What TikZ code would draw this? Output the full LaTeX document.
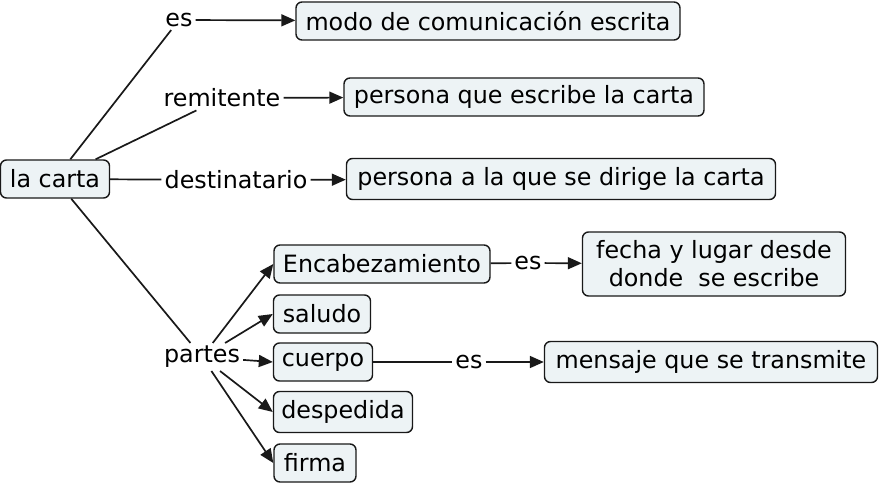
\documentclass[tikz,border=0pt]{standalone}
\usepackage{fontspec}
\setmainfont{DejaVu Sans}
\usepackage{tikz}
\usetikzlibrary{positioning, arrows.meta}
\definecolor{boxFill}{RGB}{237, 243, 245}
\definecolor{boxLine}{RGB}{25, 25, 25}

\begin{document}
\begin{tikzpicture}[x=1pt, y=1pt,
        concept/.style={draw=boxLine, fill=boxFill, line width=1.4pt, rounded corners=6pt,
            inner sep=2pt, minimum height=38pt, font=\fontsize{23.8}{28}\selectfont},
        linkword/.style={inner sep=3pt, font=\fontsize{23.8}{27}\selectfont},
        conn/.style={line width=1.7pt, boxLine},
        arrowto/.style={conn, -{Triangle[length=14pt, width=12pt]}}]
        \useasboundingbox (0,0) rectangle (880,-484);
        % concepts
        \node[concept, minimum width=109pt] (carta) at (55,-179) {la carta};
        \node[concept, minimum width=384pt] (modo) at (488,-21) {modo de comunicación escrita};
        \node[concept, minimum width=360pt] (escribe) at (524,-97) {persona que escribe la carta};
        \node[concept, minimum width=429pt, minimum height=41pt] (dirige) at (561,-179) {persona a la que se dirige la carta};
        \node[concept, minimum width=216pt] (enc) at (382,-264) {Encabezamiento};
        \node[concept, minimum width=263pt, minimum height=64pt, align=center] (fecha) at (714,-264) {fecha y lugar desde\\donde\ \ se escribe};
        \node[concept, minimum width=97pt] (saludo) at (322,-314) {saludo};
        \node[concept, minimum width=99pt] (cuerpo) at (323,-362) {cuerpo};
        \node[concept, minimum width=333pt, minimum height=41pt] (mensaje) at (711,-362) {mensaje que se transmite};
        \node[concept, minimum width=139pt, minimum height=41pt] (desp) at (343,-412) {despedida};
        \node[concept, minimum width=82pt] (firma) at (315,-463) {firma};
        % linking words
        \node[linkword] (es) at (179,-20) {es};
        \node[linkword] (remit) at (222,-98) {remitente};
        \node[linkword] (dest) at (236,-180) {destinatario};
        \node[linkword] (partes) at (202,-357) {partes};
        \node[linkword] (esEnc) at (528,-263) {es};
        \node[linkword] (esCuerpo) at (469,-362) {es};
        % connectors
        \draw[conn] (carta) -- (es);
        \draw[conn] (carta) -- (remit);
        \draw[conn] (carta) -- (dest);
        \draw[conn] (carta) -- (partes);
        \draw[arrowto] (es) -- (modo);
        \draw[arrowto] (remit) -- (escribe);
        \draw[arrowto] (dest) -- (dirige);
        \draw[arrowto] (partes) -- (enc.west);
        \draw[arrowto] (partes) -- (saludo.west);
        \draw[arrowto] (partes) -- (cuerpo.west);
        \draw[arrowto] (partes) -- (desp.west);
        \draw[arrowto] (partes) -- (firma.west);
        \draw[conn] (enc) -- (esEnc);
        \draw[arrowto] (esEnc) -- (fecha);
        \draw[conn] (cuerpo) -- (esCuerpo);
        \draw[arrowto] (esCuerpo) -- (mensaje);
    \end{tikzpicture}
\end{document}
